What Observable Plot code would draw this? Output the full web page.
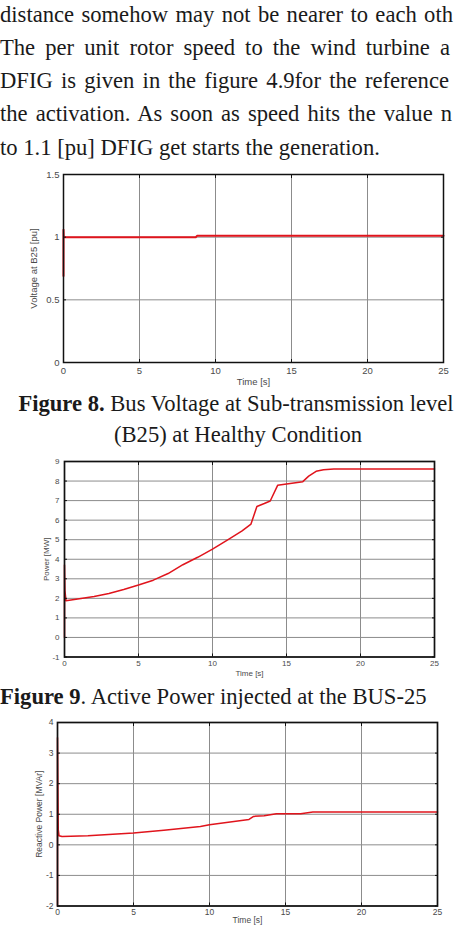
<!DOCTYPE html>
<html><head><meta charset="utf-8">
<script src="https://cdn.jsdelivr.net/npm/d3@7"></script>
<script src="https://cdn.jsdelivr.net/npm/@observablehq/plot@0.6"></script>
<style>
html,body{margin:0;padding:0;background:#fff;width:455px;height:932px;overflow:hidden;}
#page{position:relative;width:455px;height:932px;overflow:hidden;font-family:"Liberation Serif",serif;color:#1a1a1a;}
.ln{position:absolute;left:0;white-space:nowrap;}
.chart{position:absolute;left:0;}
.cap{position:absolute;white-space:nowrap;}
</style></head><body><div id="page"></div>
<script>
// ---- text (as visible in the cropped reference) ----
const paragraphLines = [
  "distance somehow may not be nearer to each oth",
  "The per unit rotor speed to the wind turbine a",
  "DFIG is given in the figure 4.9for the reference",
  "the activation. As soon as speed hits the value n",
  "to 1.1 [pu] DFIG get starts the generation."
];
const caption8 = ["Figure 8.", " Bus Voltage at Sub-transmission level", "(B25) at Healthy Condition"];
const caption9 = ["Figure 9", ". Active Power injected at the BUS-25"];

// ---- chart data ----
const xTicks = [0, 5, 10, 15, 20, 25];
const voltTime = [0, 0, 0.02, 0.05, 8.7, 8.8, 25];
const voltValue = [0.69, 1.06, 1.0, 1.0, 1.0, 1.012, 1.012];
const voltTicks = [0, 0.5, 1, 1.5];

const pTime = [0, 0, 0.03, 0.1, 1, 2, 3, 4, 5, 6, 7, 8, 9, 10, 11, 12, 12.6, 13.0, 13.5, 13.9, 14.4, 15, 16.1, 16.5, 17, 17.5, 18.2, 25];
const pValue = [0, 3.7, 2.4, 1.88, 1.98, 2.1, 2.25, 2.45, 2.68, 2.93, 3.27, 3.72, 4.1, 4.52, 4.98, 5.45, 5.8, 6.7, 6.85, 6.98, 7.78, 7.85, 7.97, 8.25, 8.5, 8.58, 8.62, 8.62];
const pTicks = [-1, 0, 1, 2, 3, 4, 5, 6, 7, 8, 9];

const qTime = [0, 0, 0.05, 0.1, 0.3, 2, 5, 7, 9.4, 10, 12.6, 12.9, 13.6, 14.4, 16.0, 16.8, 25];
const qValue = [-2, 3.5, 0.5, 0.3, 0.27, 0.3, 0.39, 0.48, 0.6, 0.66, 0.83, 0.93, 0.95, 1.02, 1.02, 1.07, 1.07];
const qTicks = [-2, -1, 0, 1, 2, 3, 4];

const page = document.getElementById("page");

// ---- paragraph ----
const FS = 20;
function measure(txt, size, weight) {
  const s = document.createElement("span");
  s.style.cssText = `font-family:"Liberation Serif";font-size:${size}px;font-weight:${weight||"normal"};white-space:pre;position:absolute;visibility:hidden;`;
  s.textContent = txt; document.body.appendChild(s);
  const w = s.getBoundingClientRect().width; s.remove(); return w;
}
const lastW = measure(paragraphLines[4], FS);
const fs = FS * 380 / lastW;
const baselines = [23, 56, 89, 122.5, 156];
const lineEnds = [453, 450, 449, 452, null];
paragraphLines.forEach((line, i) => {
  const d = document.createElement("div");
  d.className = "ln";
  d.style.fontSize = fs + "px";
  d.style.lineHeight = "1";
  d.style.top = (baselines[i] - fs * 0.86) + "px";
  d.textContent = line;
  if (lineEnds[i]) {
    const nat = measure(line, fs);
    const nsp = line.split(" ").length - 1;
    d.style.wordSpacing = ((lineEnds[i] - nat) / nsp) + "px";
  }
  page.appendChild(d);
});

// ---- captions ----
function cap(html, top, left, center) {
  const d = document.createElement("div");
  d.className = "cap";
  d.style.fontSize = fs + "px";
  d.style.lineHeight = "1";
  d.style.top = (top - fs * 0.86) + "px";
  if (center) { d.style.left = "0"; d.style.width = (center * 2) + "px"; d.style.textAlign = "center"; }
  else d.style.left = left + "px";
  d.innerHTML = html;
  page.appendChild(d);
}
cap(`<b>${caption8[0]}</b>${caption8[1]}`, 412, 0, 236);
cap(caption8[2], 443.5, 0, 238);
cap(`<b>${caption9[0]}</b>${caption9[1]}`, 705, 0, null);

// ---- charts ----
function makeChart({time, value, yDomain, yTicks, yLabel, top, ml, mr, mt, mb, plotH, yLabelOffset, xLabelOffset, xPad, yPad, frameW, lineW, fontSize}) {
  const data = time.map((t, i) => ({t, v: value[i]}));
  const fmt = d => String(d);
  const blank = () => "";
  const el = Plot.plot({
    width: 455,
    height: mt + plotH + mb,
    marginLeft: ml, marginRight: mr, marginTop: mt, marginBottom: mb,
    style: {background: "transparent", fontFamily: "'Liberation Sans', Arial, sans-serif", fontSize: fontSize + "px", color: "#4a4a4a", overflow: "visible"},
    x: {domain: [0, 25]},
    y: {domain: yDomain},
    marks: [
      Plot.gridX(xTicks, {stroke: "#8c8c8c", strokeOpacity: 1, strokeWidth: 1}),
      Plot.gridY(yTicks, {stroke: "#8c8c8c", strokeOpacity: 1, strokeWidth: 1}),
      Plot.line(data, {x: "t", y: "v", stroke: "#e0141c", strokeWidth: lineW, strokeLinejoin: "round"}),
      Plot.frame({stroke: "#111", strokeWidth: frameW}),
      Plot.axisX(xTicks, {anchor: "bottom", tickSize: 0, tickPadding: xPad, tickFormat: fmt, label: "Time [s]", labelAnchor: "center", labelOffset: xLabelOffset, labelArrow: "none"}),
      Plot.axisY(yTicks, {anchor: "left", tickSize: 0, tickPadding: yPad, tickFormat: fmt, label: yLabel, labelAnchor: "center", labelOffset: yLabelOffset, labelArrow: "none"}),
      Plot.axisX(xTicks, {anchor: "bottom", tickSize: -3, tickFormat: blank, label: null, stroke: "#111"}),
      Plot.axisX(xTicks, {anchor: "top", tickSize: -3, tickFormat: blank, label: null, stroke: "#111"}),
      Plot.axisY(yTicks, {anchor: "left", tickSize: -3, tickFormat: blank, label: null, stroke: "#111"}),
      Plot.axisY(yTicks, {anchor: "right", tickSize: -3, tickFormat: blank, label: null, stroke: "#111"})
    ]
  });
  el.classList.add("chart");
  el.style.position = "absolute";
  el.style.top = (top - mt) + "px";
  el.style.left = "0px";
  page.appendChild(el);
}

makeChart({time: voltTime, value: voltValue, yDomain: [0, 1.5], yTicks: voltTicks, yLabel: "Voltage at B25 [pu]",
  top: 174, ml: 63, mr: 12, mt: 12, mb: 30, plotH: 188, yLabelOffset: 33, xLabelOffset: 22, xPad: 5, yPad: 4, frameW: 1.5, lineW: 2, fontSize: 9.5});
makeChart({time: pTime, value: pValue, yDomain: [-1, 9], yTicks: pTicks, yLabel: "Power [MW]",
  top: 461, ml: 64, mr: 21, mt: 12, mb: 24, plotH: 195.5, yLabelOffset: 21, xLabelOffset: 19, xPad: 3, yPad: 5, frameW: 1.7, lineW: 1.5, fontSize: 8});
makeChart({time: qTime, value: qValue, yDomain: [-2, 4], yTicks: qTicks, yLabel: "Reactive Power [MVAr]",
  top: 722, ml: 57, mr: 18, mt: 10, mb: 26, plotH: 183.5, yLabelOffset: 22, xLabelOffset: 17, xPad: 3, yPad: 4, frameW: 1.7, lineW: 1.5, fontSize: 8.5});
</script>
</body></html>
